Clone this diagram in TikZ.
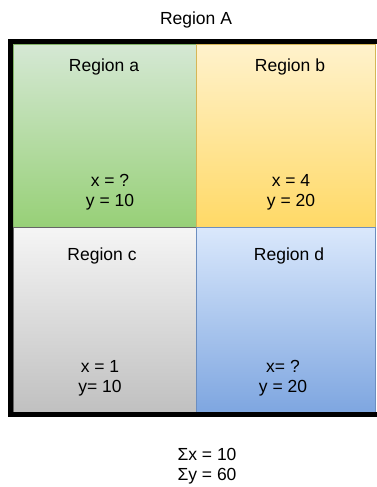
\documentclass[tikz,border=0pt]{standalone}
\usepackage{fontspec}
\setmainfont{Liberation Sans}
\begin{document}
\begin{tikzpicture}[x=1pt,y=-1pt,
  cell/.style={rectangle, inner sep=0pt, line width=0.8pt, anchor=north west},
  lbl/.style={font=\fontsize{17.5}{20}\selectfont, inner sep=0pt, align=center}]
\useasboundingbox (0,0) rectangle (376,487);
\node[lbl] (title) at (196,20) {Region A};
\node[cell, minimum width=183pt, minimum height=183pt, draw={rgb,255:red,130;green,179;blue,102},
  top color={rgb,255:red,213;green,232;blue,212}, bottom color={rgb,255:red,151;green,208;blue,119}] (ca) at (13,44) {};
\node[cell, minimum width=179pt, minimum height=183pt, draw={rgb,255:red,214;green,182;blue,86},
  top color={rgb,255:red,255;green,242;blue,204}, bottom color={rgb,255:red,255;green,217;blue,102}] (cb) at (196,44) {};
\node[cell, minimum width=183pt, minimum height=185pt, draw={rgb,255:red,102;green,102;blue,102},
  top color={rgb,255:red,245;green,245;blue,245}, bottom color={rgb,255:red,192;green,192;blue,192}] (cc) at (13,227) {};
\node[cell, minimum width=179pt, minimum height=185pt, draw={rgb,255:red,108;green,142;blue,191},
  top color={rgb,255:red,218;green,232;blue,252}, bottom color={rgb,255:red,126;green,166;blue,224}] (cd) at (196,227) {};
\draw[line width=4.5pt] (10.25,414.25) -- (10.25,41.75) -- (380,41.75);
\draw[line width=4.5pt] (8,414.25) -- (380,414.25);
\node[lbl] (ta) at (104,67) {Region a};
\node[lbl] (va) at (110,192) {x = ?\\y = 10};
\node[lbl] (tb) at (290,67) {Region b};
\node[lbl] (vb) at (291,192) {x = 4\\y = 20};
\node[lbl] (tc) at (102,256) {Region c};
\node[lbl] (vc) at (100,378) {x = 1\\y= 10};
\node[lbl] (td) at (289,256) {Region d};
\node[lbl] (vd) at (283,378) {x= ?\\y = 20};
\node[lbl] (sum) at (207,466) {Σx = 10\\Σy = 60};
\end{tikzpicture}
\end{document}
